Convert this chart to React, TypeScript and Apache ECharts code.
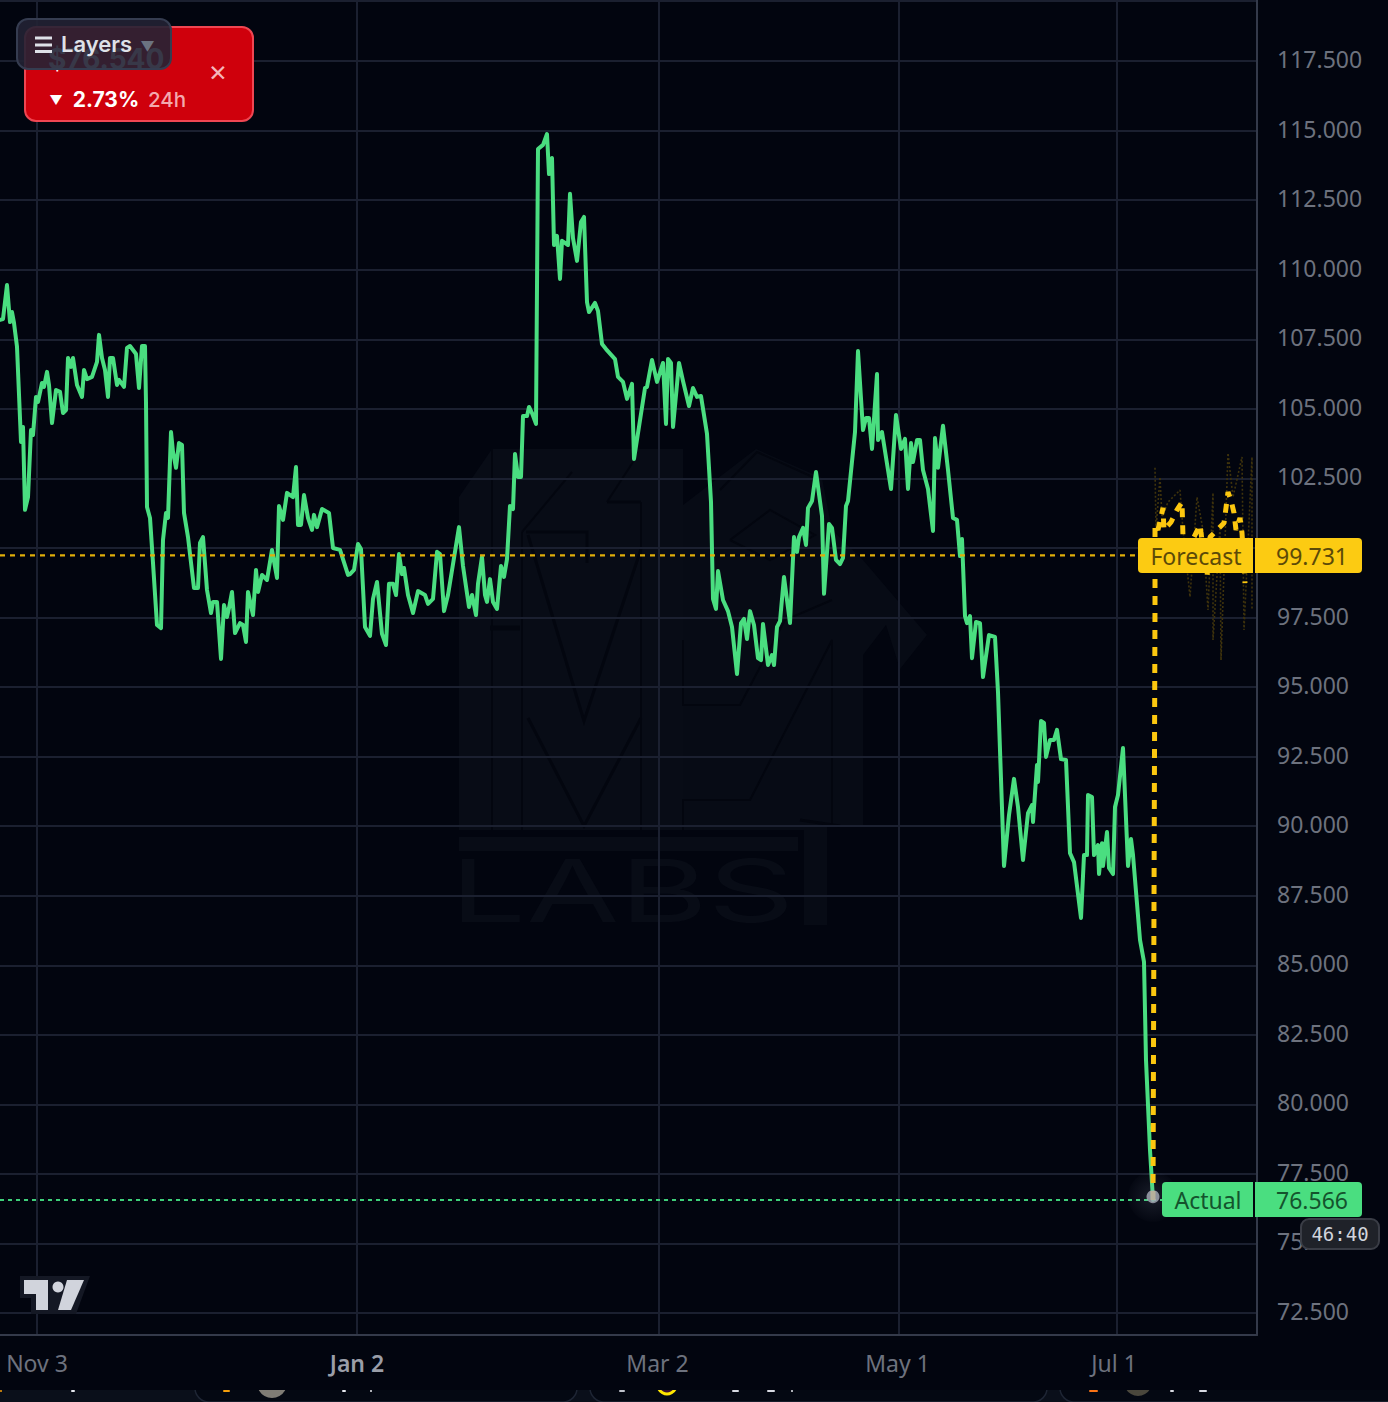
import React, { useEffect, useRef } from "react";
import * as echarts from "echarts";

// Session index (bar position on a non-uniform trading time scale) and close value.
const novDecCloses: [number, number][] = [
  [0,108.2],[3,108.23],[7,109.45],[10,108.12],[12,108.48],[14,108.09],[17,107.23],[21,103.81],[23,104.35],[25,101.37],
  [28,101.83],[31,104.24],[33,104.06],[36,105.43],[38,105.25],[42,105.93],[44,105.79],[47,106.33],[49,105.86],[52,104.49],
  [56,105.68],[60,105.61],[63,104.85],[66,104.96],[68,106.83],[71,106.51],[73,106.83],[77,105.86],[82,105.43],[84,106.4],
  [87,106.07],[92,106.15],[97,106.69],[99,107.66],[102,106.83],[105,106.4],[108,105.43],[110,106.83],[113,106.83],[117,105.86],
  [119,106.04],[124,105.79],[127,107.19],[130,107.26],[136,106.97],[139,105.75],[142,107.26],[145,107.26],[146,105.21],[147,101.47],
  [150,101.08],[153,99.46],[157,97.23],[161,97.12],[163,100.29],[166,101.26],[168,101.08],[171,104.17],[173,103.45],[176,102.88],
  [179,103.77],[182,103.7],[184,101.26],[188,100.39],[194,98.56],[198,98.56],[200,100.18],[203,100.39],[207,98.49],[211,97.66],
  [213,98.06],[217,98.06],[221,96.01],[224,97.95],[227,97.52],[229,97.84],[232,98.42],[235,96.94],[240,97.3],[243,97.23],
  [246,96.62],[248,98.42],[253,97.59],[256,99.21],[258,98.42],[262,99.03],[267,98.85],[272,99.93],[277,98.92],[279,101.51],
  [283,101.01],[287,101.98],[293,101.83],[296,102.91],[298,100.83],[301,100.83],[304,101.9],[308,101.08],[312,100.65],[314,101.19],
  [317,100.75],[322,101.4],[329,101.26],[333,100.0],[340,99.93],[348,99.03],
];
const janFebCloses: [number, number][] = [
  [350,99.06],[354,99.21],[358,100.14],[361,99.96],[365,97.16],[370,96.84],[373,98.17],[377,98.78],[382,96.91],[386,96.51],
  [389,98.71],[393,98.71],[396,98.31],[399,99.78],[402,99.06],[404,99.28],[408,98.31],[413,97.66],[418,98.45],[425,98.31],
  [428,97.99],[433,98.17],[437,99.86],[440,99.78],[444,97.73],[448,98.31],[459,100.75],[463,99.35],[469,97.88],[472,98.31],
  [476,97.59],[478,98.71],[482,99.68],[485,98.31],[487,98.06],[490,98.88],[493,98.06],[497,97.81],[501,99.35],[504,98.96],
  [507,99.6],[510,101.51],[513,101.4],[515,103.38],[518,102.55],[521,102.55],[523,104.74],[527,104.74],[529,105.07],[532,104.85],
  [536,104.46],[538,114.34],[543,114.49],[547,114.88],[549,113.44],[552,114.02],[554,110.89],[557,111.22],[560,109.67],[562,111.04],
  [568,110.89],[570,112.73],[573,111.14],[577,110.32],[581,111.72],[584,111.9],[587,108.84],[589,108.48],[595,108.81],[598,108.52],
  [602,107.33],[606,107.15],[615,106.79],[618,106.15],[623,105.97],[627,105.36],[632,105.9],[634,103.2],[645,105.75],[647,105.79],
  [652,106.76],[657,105.97],
];
const marAprCloses: [number, number][] = [
  [663,106.65],[666,104.46],[668,106.79],[671,106.65],[673,104.35],[679,106.65],[683,106.0],[689,105.1],[693,105.75],[697,105.43],
  [701,105.46],[707,104.1],[711,101.65],[713,98.17],[716,97.81],[718,99.17],[723,98.13],[728,97.73],[732,97.16],[737,95.47],
  [741,97.3],[744,97.45],[747,96.73],[750,97.73],[754,97.23],[758,96.04],[761,95.97],[763,97.27],[768,95.79],[772,96.15],
  [774,95.79],[777,97.16],[780,97.37],[784,98.96],[790,97.3],[794,100.39],[797,99.86],[799,100.39],[803,100.72],[806,100.11],
  [808,101.44],[812,101.69],[816,102.73],[822,101.15],[824,98.35],[829,100.86],[832,100.72],[836,99.57],[840,99.42],[843,99.64],
  [846,101.51],[848,101.69],[855,104.17],[858,107.08],[863,104.24],[866,104.67],[869,104.67],[872,103.56],[877,106.25],[878,103.88],
  [882,104.17],[891,102.12],[896,104.78],
];
const mayJulCloses: [number, number][] = [
  [901,103.56],[905,103.92],[908,102.12],[911,103.77],[913,103.09],[917,103.88],[920,103.88],[923,102.8],[928,102.12],[933,100.61],
  [935,103.95],[938,102.88],[943,104.39],[948,102.8],[953,101.08],[957,101.01],[960,99.71],[962,100.32],[965,97.55],[967,97.3],
  [970,97.55],[972,96.04],[976,97.34],[980,97.3],[983,95.36],[989,96.87],[995,96.8],[998,94.82],[1004,88.57],[1009,90.4],
  [1014,91.7],[1018,90.69],[1023,88.78],[1028,90.47],[1032,90.76],[1033,90.15],[1037,92.2],[1038,91.59],[1041,93.78],[1044,93.71],
  [1046,92.49],[1050,93.1],[1054,93.1],[1057,93.46],[1061,92.41],[1066,92.38],[1070,89.03],[1074,88.71],[1081,86.7],[1084,88.96],
  [1087,88.96],[1088,91.12],[1092,91.05],[1094,88.96],[1098,89.32],[1099,88.28],[1102,89.39],[1103,88.57],[1107,89.79],[1109,88.5],
  [1113,88.28],[1115,90.69],[1118,91.12],[1123,92.81],[1128,88.57],[1131,89.54],[1133,88.96],[1140,85.91],[1144,85.12],[1146,81.59],
  [1150,78.36],[1153,76.566],
];
const forecastPath: [number, number][] = [
  [1153,76.566],[1155,98.0],[1155,100.83],[1158,100.65],[1163,101.44],[1164,100.65],[1171,100.93],[1177,101.37],[1182,101.65],[1183,100.39],
  [1192,99.1],[1194,100.39],[1200,100.83],[1201,100.54],[1207,98.96],[1210,100.39],[1224,100.9],[1226,101.44],[1228,102.01],[1231,101.72],
  [1234,101.26],[1236,100.65],[1240,101.08],[1242,100.54],[1245,98.74],
];
const ensemblePath: [number, number][] = [
  [1155,102.88],[1156,100.65],[1160,102.55],[1162,101.11],[1168,101.65],[1180,102.08],[1183,100.65],[1190,98.24],[1197,101.83],[1203,100.65],
  [1208,97.77],[1213,101.98],[1213,96.69],[1220,100.75],[1221,95.97],[1228,103.41],[1233,101.83],[1242,103.27],[1244,97.05],[1252,103.27],[1252,97.77],
];
const yTicks = [72.5,75,77.5,80,82.5,85,87.5,90,92.5,95,97.5,100,102.5,105,107.5,110,112.5,115,117.5];
const xTicks = [37,357,659,899,1117];
const xTickLabels = ["Nov 3","Jan 2","Mar 2","May 1","Jul 1"];
const forecastLevel = 99.731;
const actualLevel = 76.566;
const liveDot: [number, number] = [1153, 76.68];
const forecastGuideEnd = 1138;
const actualGuideEnd = 1162;
const priceText = "$76.540";
const changeText = "2.73%";

const BG = "#02050f";
const GRID = "#1b2030";
const GREEN = "#4ade80";
const YELLOW = "#fccb12";
const LOGO = "#080c16";
const LOGO_DARK = "#03060f";
const SANS = "'Noto Sans', sans-serif";
const INTER = "Inter, sans-serif";

const wmLine = (points: number[][], lineWidth = 2) => ({
  type: "polyline", z: -1, shape: { points }, style: { stroke: LOGO_DARK, lineWidth, fill: "none" }, silent: true,
});
const rectEl = (x: number, y: number, width: number, height: number, r: number | number[], fill: string, z: number, stroke?: string, lineWidth = 0) => ({
  type: "rect", z, shape: { x, y, width, height, r }, style: { fill, stroke: stroke ?? "none", lineWidth }, silent: true,
});
const textEl = (text: string, x: number, y: number, fill: string, fontSize: number, z: number, fontFamily = SANS, fontWeight: any = 400, align = "center") => ({
  type: "text", z, style: { text, x, y, fill, fontSize, fontFamily, fontWeight, align, verticalAlign: "middle" }, silent: true,
});
const bit = (x: number, w: number, fill: string) => rectEl(x, 1390, w, 2, 1, fill, -2);

const graphic = [
  // page strip and cards behind the chart, covered down to y = 1390
  rectEl(0, 1390, 1388, 12, 0, "#0a0f1a", -4),
  rectEl(195, 1384, 382, 18, [0,0,14,14], "#040812", -3.5, "#1e2534", 1.5),
  rectEl(590, 1384, 457, 18, [0,0,14,14], "#040812", -3.5, "#1e2534", 1.5),
  rectEl(1060, 1384, 340, 18, [0,0,14,14], "#040812", -3.5, "#1e2534", 1.5),
  { type: "circle", z: -3, silent: true, shape: { cx: 272, cy: 1383, r: 15 }, style: { fill: "#7f7c75" } },
  { type: "circle", z: -3, silent: true, shape: { cx: 1138, cy: 1382, r: 14 }, style: { fill: "#4a473c" } },
  { type: "circle", z: -3, silent: true, shape: { cx: 667, cy: 1385, r: 9 }, style: { fill: "#3a1030", stroke: "#ffe600", lineWidth: 3 } },
  rectEl(0, 0, 1388, 1390, 0, BG, -2.5),
  bit(0, 2, "#f59e0b"), bit(71, 4, "#e6e8ee"), bit(223, 7, "#f59e0b"), bit(342, 4, "#e6e8ee"), bit(370, 2, "#e6e8ee"),
  bit(619, 6, "#c0c3cc"), bit(732, 7, "#d8dae2"), bit(767, 8, "#d8dae2"), bit(791, 2, "#e6e8ee"), bit(1089, 9, "#f97316"),
  bit(1170, 4, "#d8dae2"), bit(1199, 8, "#d8dae2"),
  rectEl(0, 0, 1257, 2, 0, GRID, -2),

  // faint logo watermark
  { type: "polygon", z: -1, silent: true, shape: { points: [[459,497],[492,449],[683,449],[683,830],[459,830]] }, style: { fill: LOGO } },
  { type: "polygon", z: -1, silent: true, shape: { points: [[683,505],[756,449],[822,478],[832,530],[863,560],[886,587],[927,635],[900,669],[886,625],[863,655],[863,826],[827,826],[827,925],[804,925],[804,830],[683,830]] }, style: { fill: "#070b15" } },
  { type: "rect", z: -1, silent: true, shape: { x: 459, y: 837, width: 339, height: 14 }, style: { fill: LOGO } },
  wmLine([[492,449],[492,830]]),
  wmLine([[522,532],[522,830]]),
  wmLine([[522,532],[572,472]]),
  wmLine([[526,532],[587,532],[587,563]], 3),
  wmLine([[528,535],[584,721],[641,549]], 3),
  wmLine([[528,718],[584,826],[641,718]], 3),
  wmLine([[641,502],[641,830]]),
  wmLine([[607,502],[641,502]], 3),
  wmLine([[607,502],[633,462]]),
  wmLine([[490,628],[520,628]], 5),
  wmLine([[683,640],[683,705],[740,705],[785,620],[832,600]]),
  wmLine([[683,830],[683,800],[750,800],[832,640],[832,826]]),
  wmLine([[730,540],[770,510],[815,535],[770,560],[730,540]]),
  wmLine([[720,490],[757,452],[815,478]]),
  wmLine([[800,820],[840,826]], 3),
  {
    type: "text", z: -1, silent: true, x: 450, y: 890, scaleX: 1.57,
    style: { text: "LABS", x: 0, y: 0, fill: LOGO, fontSize: 86, fontFamily: INTER, fontWeight: 400, align: "left", verticalAlign: "middle" },
  },

  // TradingView mark
  { type: "polygon", z: 20, silent: true, shape: { points: [[20,1276],[90,1276],[76,1314],[31,1314],[31,1298],[20,1298]] }, style: { fill: "#141824" } },
  { type: "polygon", z: 21, silent: true, shape: { points: [[24,1280],[48,1280],[48,1310],[36,1310],[36,1294],[24,1294]] }, style: { fill: "#d1d4dc" } },
  { type: "circle", z: 21, silent: true, shape: { cx: 58, cy: 1287, r: 5.5 }, style: { fill: "#d1d4dc" } },
  { type: "polygon", z: 21, silent: true, shape: { points: [[67,1280],[84,1280],[71,1310],[58,1310]] }, style: { fill: "#d1d4dc" } },

  // Forecast tag
  rectEl(1138, 538, 115, 35, [4,0,0,4], YELLOW, 30),
  rectEl(1255, 538, 107, 35, [0,4,4,0], YELLOW, 30),
  textEl("Forecast", 1196, 556, "#5c4a08", 23, 31),
  textEl("99.731", 1312, 556, "#5c4a08", 23, 31),

  // Actual tag
  rectEl(1162, 1182, 91, 35, [4,0,0,4], GREEN, 30),
  rectEl(1255, 1182, 107, 35, [0,4,4,0], GREEN, 30),
  textEl("Actual", 1208, 1200, "#14532d", 23, 31),
  textEl("76.566", 1312, 1200, "#14532d", 23, 31),

  // countdown pill
  rectEl(1301, 1219, 78, 30, 8, "#1f2229", 32, "#3a3d46", 2),
  textEl("46:40", 1340, 1234, "#d1d4dc", 19, 33, "'DejaVu Sans Mono', monospace"),

  // alert card
  rectEl(25, 27, 228, 94, 11, "#cf000c", 40, "#ef4652", 2),
  textEl(priceText, 48, 59, "#ffffff", 28, 41, INTER, 700, "left"),
  textEl("▼", 56, 100, "#ffffff", 13, 41, INTER, 700),
  textEl(changeText, 106, 99, "#ffffff", 21, 41, INTER, 700),
  textEl("24h", 167, 99, "#f3a8ae", 20.5, 41, INTER, 500),
  textEl("✕", 218, 73, "#f5b5ba", 23, 41, "'DejaVu Sans', sans-serif"),

  // layers button
  rectEl(17, 19, 154, 50, 11, "rgba(34,34,52,0.9)", 50, "#353c50", 2),
  { type: "rect", z: 51, silent: true, shape: { x: 35, y: 36.5, width: 17, height: 3 }, style: { fill: "#dfe1e8" } },
  { type: "rect", z: 51, silent: true, shape: { x: 35, y: 43.5, width: 17, height: 3 }, style: { fill: "#dfe1e8" } },
  { type: "rect", z: 51, silent: true, shape: { x: 35, y: 50, width: 17, height: 3 }, style: { fill: "#dfe1e8" } },
  textEl("Layers", 61, 44, "#dfe1e8", 22, 51, INTER, 600, "left"),
  textEl("▼", 147.5, 46, "#6b7280", 14, 51, INTER, 600),
];

export default function App() {
  const ref = useRef<HTMLDivElement>(null);
  useEffect(() => {
    const chart = echarts.init(ref.current!, undefined, { renderer: "svg" });
    const actual = [...novDecCloses, ...janFebCloses, ...marAprCloses, ...mayJulCloses];
    chart.setOption({
      animation: false,
      backgroundColor: BG,
      grid: { left: 0, top: 0, right: 131, bottom: 67, containLabel: false },
      tooltip: { show: false },
      xAxis: {
        type: "value", min: 0, max: 1257,
        axisLine: { show: true, onZero: false, lineStyle: { color: "#343a4a", width: 2 } },
        axisTick: { show: false, customValues: xTicks },
        splitLine: { show: true, lineStyle: { color: GRID, width: 2 } },
        axisLabel: {
          customValues: xTicks, margin: 16, fontFamily: SANS, fontSize: 23, color: "#6d727e", hideOverlap: false,
          formatter: (v: number) => {
            const t = xTickLabels[xTicks.indexOf(v)] ?? "";
            if (t === "Jan 2") return `{year|${t}}`;
            if (t === "Jul 1") return `{late|${t}}`;
            if (t === "Nov 3") return t;
            return `{mid|${t}}`;
          },
          rich: {
            year: { color: "#9a9ea8", fontWeight: 600, fontFamily: SANS, fontSize: 23 },
            late: { color: "#6d727e", fontFamily: SANS, fontSize: 23, padding: [0, 6, 0, 0] },
            mid: { color: "#6d727e", fontFamily: SANS, fontSize: 23, padding: [0, 3, 0, 0] },
          },
        },
      },
      yAxis: {
        type: "value", position: "right", min: 71.71, max: 119.697, scale: true,
        axisLine: { show: true, onZero: false, lineStyle: { color: "#343a4a", width: 2 } },
        axisTick: { show: false, customValues: yTicks },
        splitLine: { show: true, lineStyle: { color: GRID, width: 2 } },
        axisLabel: {
          customValues: yTicks, margin: 20, fontFamily: SANS, fontSize: 23, color: "#6d727e",
          formatter: (v: number) => `{p|${v.toFixed(3)}}`,
          rich: { p: { color: "#6d727e", fontFamily: SANS, fontSize: 23, padding: [0, 0, 4, 0] } },
        },
      },
      graphic,
      series: [
        {
          type: "line", z: 2, data: actual, showSymbol: false, silent: true, smooth: false,
          lineStyle: { color: GREEN, width: 4, join: "round", cap: "round" },
        },
        {
          type: "line", z: 3, data: [[0, forecastLevel], [forecastGuideEnd, forecastLevel]], showSymbol: false, silent: true,
          lineStyle: { color: "#e0ae0a", width: 2.2, type: [5, 5] },
        },
        {
          type: "line", z: 3, data: [[0, actualLevel], [actualGuideEnd, actualLevel]], showSymbol: false, silent: true,
          lineStyle: { color: "#3fd07a", width: 2, type: [4, 4] },
        },
        {
          type: "line", z: 2, data: ensemblePath, showSymbol: false, silent: true,
          lineStyle: { color: "#3f330c", width: 1.6, type: [2, 2] },
        },
        {
          type: "line", z: 4, data: forecastPath, showSymbol: false, silent: true,
          lineStyle: { color: "#fcc70f", width: 5, type: [9, 8] },
        },
        {
          type: "scatter", z: 5, data: [liveDot], symbolSize: 50, silent: true,
          itemStyle: {
            color: {
              type: "radial", x: 0.5, y: 0.5, r: 0.5,
              colorStops: [
                { offset: 0, color: "rgba(150,160,185,0.2)" },
                { offset: 1, color: "rgba(150,160,185,0.02)" },
              ],
            },
          },
        },
        {
          type: "scatter", z: 6, data: [liveDot], symbolSize: 13, silent: true,
          itemStyle: { color: "#a9adb9" },
        },
      ],
    });
    return () => chart.dispose();
  }, []);
  return (
    <div
      ref={ref}
      style={{ position: "absolute", left: 0, top: 0, width: 1388, height: 1402, overflow: "hidden" }}
    />
  );
}
